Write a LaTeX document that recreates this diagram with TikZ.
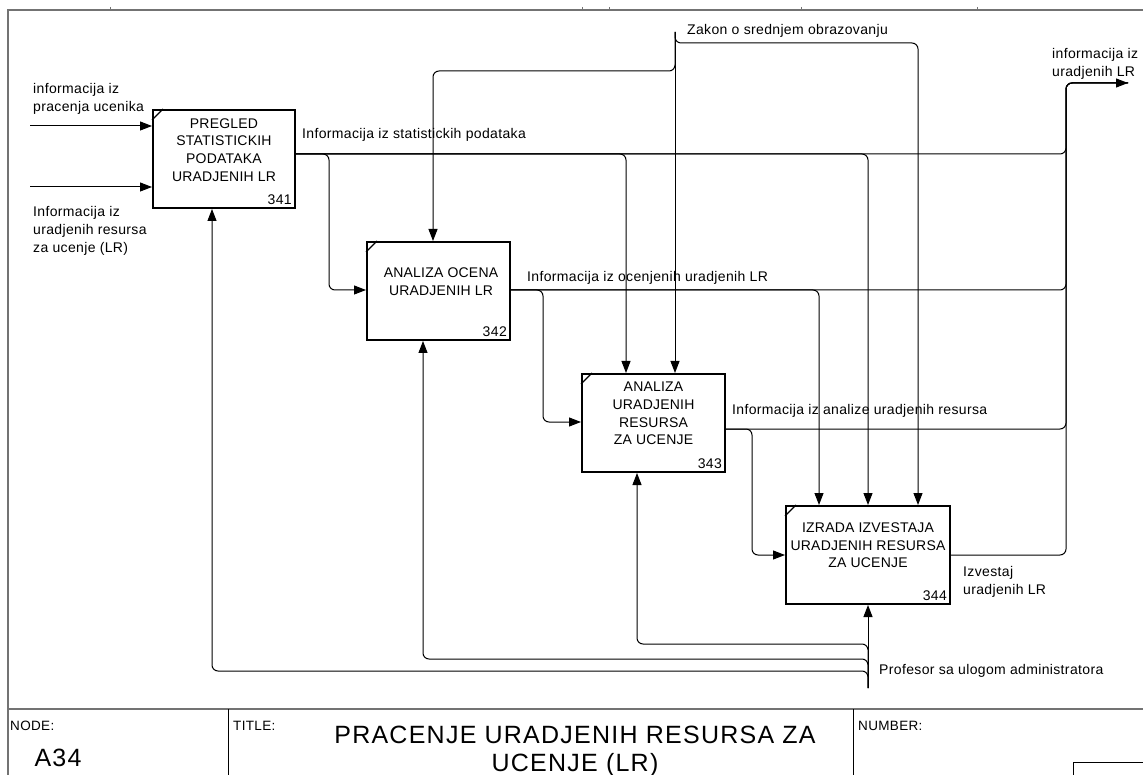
\documentclass[tikz,border=0pt]{standalone}
\usepackage{fontspec}
\setmainfont{Liberation Sans}
\newfontfamily\lblfont[LetterSpace=2.5]{Liberation Sans}
\newfontfamily\boxfont[LetterSpace=1.5]{Liberation Sans}
\newfontfamily\ttlfont[LetterSpace=5]{Liberation Sans}
\usetikzlibrary{arrows.meta}

\begin{document}
\begin{tikzpicture}[x=1pt,y=-1pt,
  func/.style={draw, line width=2pt, anchor=north west, inner sep=0pt},
  ftext/.style={align=center, font=\boxfont\fontsize{14}{17.8}\selectfont, inner sep=0pt},
  fnum/.style={anchor=south east, font=\lblfont\fontsize{14}{14}\selectfont, inner sep=0pt},
  lab/.style={anchor=west, align=left, font=\lblfont\fontsize{14}{17.8}\selectfont, inner sep=0pt},
  small/.style={anchor=west, font=\lblfont\fontsize{13.5}{13.5}\selectfont, inner sep=0pt},
  big/.style={align=center, font=\ttlfont\fontsize{25}{28.5}\selectfont, inner sep=0pt},
  wire/.style={line width=1pt, rounded corners=6pt},
  arr/.style={wire, -{Triangle[length=12pt,width=9pt]}},
  frame/.style={draw=black!55, line width=2pt},
]
\useasboundingbox (0,0) rectangle (1143,775);
\clip (0,0) rectangle (1143,775);

% sheet frame and title block
\draw[frame] (8,790) -- (8,10.5) -- (1160,10.5);
\foreach \tx in {110,582,609,801,977}
  \draw[black!55, line width=1pt] (\tx,7) -- (\tx,11);
\draw[frame] (8,709) -- (1160,709);
\draw[line width=1pt] (228,709) -- (228,790);
\draw[line width=1pt] (853,709) -- (853,790);
\draw[line width=1pt] (1073,790) -- (1073,762) -- (1160,762);
\node[small] (tnode) at (10,726) {NODE:};
\node[small] (ttitle) at (233,726) {TITLE:};
\node[small] (tnum) at (858,726) {NUMBER:};
\node[big] (tA) at (58,758) {A34};
\node[big] (tT) at (575,751.5) {PRACENJE URADJENIH RESURSA ZA\\UCENJE (LR)};

% activity boxes
\node[func, minimum width=142pt, minimum height=98pt] (b341) at (152,109) {};
\node[func, minimum width=143pt, minimum height=98pt] (b342) at (366,241) {};
\node[func, minimum width=143pt, minimum height=98pt] (b343) at (581,373) {};
\node[func, minimum width=164pt, minimum height=98pt] (b344) at (785,505) {};

\foreach \b in {b341,b342,b343,b344}
  \draw[line width=1.2pt] ([yshift=-11pt]\b.north west) -- ([xshift=11pt]\b.north west);

\node[ftext] (t341) at ([yshift=9pt]b341.center) {PREGLED\\STATISTICKIH\\PODATAKA\\URADJENIH LR};
\node[ftext] (t342) at ([xshift=2.5pt,yshift=9pt]b342.center) {ANALIZA OCENA\\URADJENIH LR};
\node[ftext] (t343) at ([yshift=9.5pt]b343.center) {ANALIZA\\URADJENIH\\RESURSA\\ZA UCENJE};
\node[ftext] (t344) at ([yshift=9.7pt]b344.center) {IZRADA IZVESTAJA\\URADJENIH RESURSA\\ZA UCENJE};

\node[fnum] (n341) at ([shift={(-4pt,4pt)}]b341.south east) {341};
\node[fnum] (n342) at ([shift={(-4pt,4pt)}]b342.south east) {342};
\node[fnum] (n343) at ([shift={(-4pt,4pt)}]b343.south east) {343};
\node[fnum] (n344) at ([shift={(-4pt,4pt)}]b344.south east) {344};

% free ends of boundary arrows
\coordinate (in1) at (30,126);
\coordinate (in2) at (30,187);
\coordinate (zak) at (675,32);
\coordinate (mech) at (868,688);
\coordinate (oLR) at (1128,83);

% inputs of 341
\draw[arr] (in1) -- (b341.west |- in1);
\draw[arr] (in2) -- (b341.west |- in2);

% output of 341
\draw[arr] (b341.east |- 0,154) -- (329,154) -- (329,290) -- (b342.west |- 0,290);
\draw[arr] (b341.east |- 0,154) -- (626,154) -- (b343.north -| 626,0);
\draw[arr] (b341.east |- 0,154) -- (868,154) -- (b344.north -| 868,0);
\draw[wire] (b341.east |- 0,154) -- (1066,154) -- (1066,83) -- (oLR);

% output of 342
\draw[arr] (b342.east |- 0,290) -- (543,290) -- (543,422) -- (b343.west |- 0,422);
\draw[arr] (b342.east |- 0,290) -- (819,290) -- (b344.north -| 819,0);
\draw[wire] (b342.east |- 0,290) -- (1066,290) -- (1066,83) -- (oLR);

% output of 343
\draw[arr] (b343.east |- 0,429) -- (752,429) -- (752,555) -- (b344.west |- 0,555);
\draw[wire] (b343.east |- 0,429) -- (1066,429) -- (1066,83) -- (oLR);

% output of 344
\draw[arr] (b344.east |- 0,555) -- (1066,555) -- (1066,83) -- (oLR);

% control: Zakon o srednjem obrazovanju
\draw[arr] (zak) -- (b343.north -| zak);
\draw[arr] (zak) -- (675,43) -- (918,43) -- (b344.north -| 918,0);
\draw[arr] (zak) -- (675,71) -- (433,71) -- (b342.north -| 433,0);

% mechanism: Profesor sa ulogom administratora
\draw[arr] (mech) -- (b344.south -| mech);
\draw[arr] (mech) -- (868,644) -- (637,644) -- (b343.south -| 637,0);
\draw[arr] (mech) -- (868,659) -- (423,659) -- (b342.south -| 423,0);
\draw[arr] (mech) -- (868,671) -- (212,671) -- (b341.south -| 212,0);

% arrow labels
\node[lab] (l1) at (33,99) {informacija iz\\pracenja ucenika};
\node[lab] (l2) at (33,231) {Informacija iz\\uradjenih resursa\\za ucenje (LR)};
\node[lab] (l3) at (302,135) {Informacija iz statistickih podataka};
\node[lab] (l4) at (687,31) {Zakon o srednjem obrazovanju};
\node[lab] (l5) at (1052,64) {informacija iz\\uradjenih LR};
\node[lab] (l6) at (527,278) {Informacija iz ocenjenih uradjenih LR};
\node[lab] (l7) at (732,411) {Informacija iz analize uradjenih resursa};
\node[lab] (l8) at (963,582) {Izvestaj\\uradjenih LR};
\node[lab] (l9) at (879,671) {Profesor sa ulogom administratora};
\end{tikzpicture}
\end{document}
